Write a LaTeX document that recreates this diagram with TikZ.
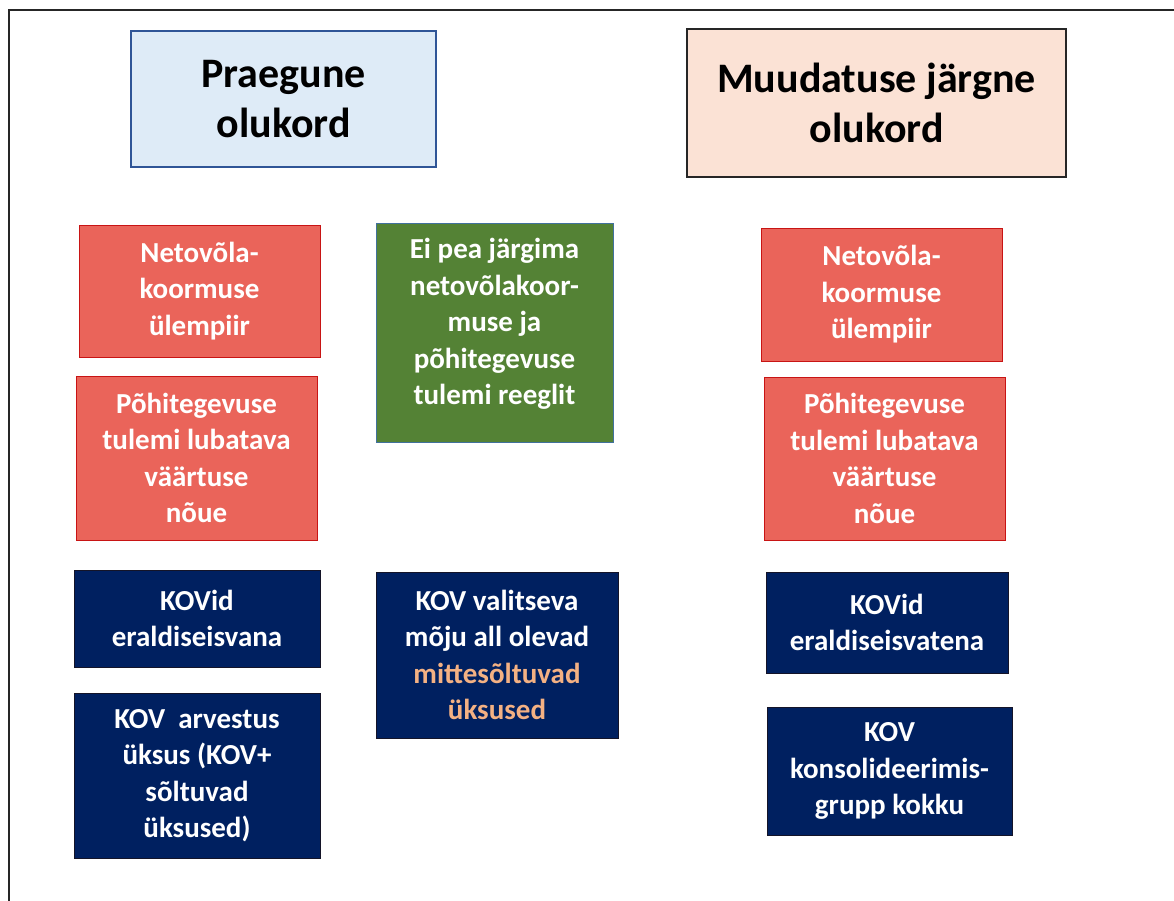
\documentclass[tikz,border=0pt]{standalone}
\usepackage{fontspec}
\setmainfont{Carlito}
\usepackage{tikz}
\usetikzlibrary{positioning}
\definecolor{headfill}{RGB}{222,235,247}
\definecolor{headline}{RGB}{47,85,151}
\definecolor{peachfill}{RGB}{251,226,213}
\definecolor{peachline}{RGB}{38,38,38}
\definecolor{redfill}{RGB}{234,100,90}
\definecolor{redline}{RGB}{200,20,20}
\definecolor{greenfill}{RGB}{84,130,53}
\definecolor{greenline}{RGB}{65,113,156}
\definecolor{navyfill}{RGB}{0,32,96}
\definecolor{navyline}{RGB}{20,20,40}
\definecolor{orangetext}{RGB}{244,177,131}
\tikzset{
  headbox/.style={draw, line width=1.6pt, align=center, inner sep=0pt,
    font=\fontsize{42}{50}\selectfont\bfseries},
  celltext/.style={align=center, inner sep=0pt, text=white,
    font=\fontsize{29}{36.5}\selectfont\bfseries},
  cellbox/.style={celltext, draw, line width=0.9pt},
  redbox/.style={cellbox, fill=redfill, draw=redline},
  greenbox/.style={cellbox, fill=greenfill, draw=greenline},
  navybox/.style={cellbox, fill=navyfill, draw=navyline},
}

\begin{document}
\begin{tikzpicture}[x=1pt,y=1pt,yscale=-1,xscale=1]
\useasboundingbox (0,0) rectangle (1174,900);

%Shape: Frame
\draw [line width=1.5pt, color=black!85] (9,905) -- (9,10) -- (1180,10) ;

%Shape: Rectangle [Praegune]
\node [headbox, fill=headfill, draw=headline, minimum width=305, minimum height=136] (praegune) at (283.5,99) {Praegune\\olukord};
%Shape: Rectangle [Muudatuse]
\node [headbox, fill=peachfill, draw=peachline, line width=1.2pt, minimum width=379, minimum height=148] (muudatus) at (876.5,103) {Muudatuse järgne\\olukord};

%Shape: Rectangle [left column]
\node [redbox, minimum width=241, minimum height=132] (netoL) at (199.5,291) {Netovõla-\\koormuse\\ülempiir};
\node [redbox, minimum width=241, minimum height=164] (pohiL) at (196.5,458) {Põhitegevuse\\tulemi lubatava\\väärtuse\\nõue};
\node [navybox, minimum width=246, minimum height=97] (kovL) at (197,618.5) {KOVid\\eraldiseisvana};
\node [navybox, minimum width=246, minimum height=165] (arvestus) at (197,775.5) {KOV\ \ arvestus\\üksus (KOV+\\sõltuvad\\üksused)};

%Shape: Rectangle [middle column]
\node [greenbox, minimum width=237, minimum height=219] (reegel) at (494.5,332.5) {};
% Text Node
\node [celltext] (reegeltxt) at (494.5,324) {Ei pea järgima\\netovõlakoor-\\muse ja\\põhitegevuse\\tulemi reeglit};
\node [navybox, minimum width=242, minimum height=166] (valitseva) at (497,655) {KOV valitseva\\mõju all olevad\\\textcolor{orangetext}{mittesõltuvad}\\\textcolor{orangetext}{üksused}};

%Shape: Rectangle [right column]
\node [redbox, minimum width=241, minimum height=133] (netoR) at (881.5,294.5) {Netovõla-\\koormuse\\ülempiir};
\node [redbox, minimum width=241, minimum height=163] (pohiR) at (884.5,458.5) {Põhitegevuse\\tulemi lubatava\\väärtuse\\nõue};
\node [navybox, minimum width=242, minimum height=101] (kovR) at (887,622.5) {KOVid\\eraldiseisvatena};
\node [navybox, minimum width=245, minimum height=128] (konsol) at (889.5,771) {KOV\\konsolideerimis-\\grupp kokku};

\end{tikzpicture}
\end{document}
